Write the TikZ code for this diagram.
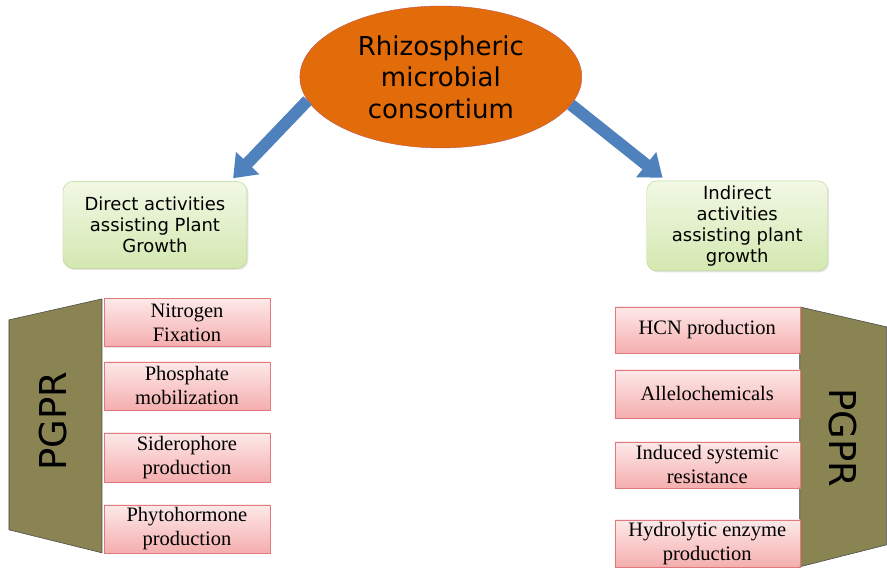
\documentclass[tikz,border=0pt]{standalone}
\usepackage{fontspec}
\setmainfont{Liberation Serif}
\newfontfamily\verdfont{DejaVu Sans}
\usetikzlibrary{shapes.geometric,arrows.meta,calc,shadows}

\definecolor{consorange}{HTML}{E36C0A}
\definecolor{consedge}{HTML}{C0504D}
\definecolor{arrowblue}{HTML}{4F81BD}
\definecolor{greentop}{HTML}{F1F8E4}
\definecolor{greenbot}{HTML}{D4E8B0}
\definecolor{greenedge}{HTML}{B9D58E}
\definecolor{pinktop}{HTML}{FDE9E9}
\definecolor{pinkbot}{HTML}{F5AEAE}
\definecolor{pinkedge}{HTML}{E07A7E}
\definecolor{pgprolive}{HTML}{8A8452}

\begin{document}
\begin{tikzpicture}[x=1pt,y=-1pt,
  cons node/.style={ellipse,draw=consedge,fill=consorange,
  minimum width=282pt,minimum height=142pt,inner sep=0pt,align=center,
  font=\verdfont\fontsize{26}{31.5}\selectfont},
  group node/.style={rectangle,rounded corners=10pt,draw=greenedge,
  top color=greentop,bottom color=greenbot,align=center,inner sep=0pt,
  drop shadow={opacity=0.2,shadow xshift=1.5pt,shadow yshift=-1.5pt},
  font=\verdfont\fontsize{18}{21}\selectfont},
  act node/.style={rectangle,draw=pinkedge,top color=pinktop,
  bottom color=pinkbot,align=center,inner sep=0pt,
  drop shadow={opacity=0.2,shadow xshift=1.5pt,shadow yshift=-1.5pt},
  font=\fontsize{20.5}{24}\selectfont},
  big arrow/.style={draw=arrowblue,line width=12pt,
  -{Triangle[length=21pt,width=31pt]}},
  pgpr shape/.style={fill=pgprolive,draw=black!70,line width=0.6pt},
  pgpr text/.style={font=\verdfont\fontsize{37}{42}\selectfont}]

  \fill[white] (0,0) rectangle (887,570);

  \node[cons node] (cons) at (441,77) {Rhizospheric\\microbial\\consortium};

  \node[group node,minimum width=184pt,minimum height=87pt] (direct)
    at (155,225) {Direct activities\\assisting Plant\\Growth};
  \node[group node,minimum width=181pt,minimum height=90pt] (indirect)
    at (737.5,226) {Indirect\\activities\\assisting plant\\growth};

  \draw[big arrow] (cons.190) -- ($(direct.north east)+(-14,-3)$);
  \draw[big arrow] (cons.-12) -- ($(indirect.north west)+(16,-3)$);

  % left PGPR block
  \draw[pgpr shape] (9,320) -- (102,299) -- (102,553) -- (9,530) -- cycle;
  \node[pgpr text,rotate=90] (pgprl) at (53,421) {PGPR};

  \node[act node,minimum width=166pt,minimum height=48pt] (nfix)
    at (187,322.5) {Nitrogen\\Fixation};
  \node[act node,minimum width=166pt,minimum height=48pt] (phos)
    at (187,386) {Phosphate\\mobilization};
  \node[act node,minimum width=166pt,minimum height=49pt] (sider)
    at (187,457.5) {Siderophore\\production};
  \node[act node,minimum width=166pt,minimum height=48pt] (phyto)
    at (187,529) {Phytohormone\\production};

  % right PGPR block
  \draw[pgpr shape] (800,307) -- (887,327) -- (887,545) -- (800,567) -- cycle;
  \node[pgpr text,rotate=-90] (pgprr) at (843,438) {PGPR};

  \node[act node,minimum width=185pt,minimum height=46pt] (hcn)
    at (707.5,330) {HCN production};
  \node[act node,minimum width=185pt,minimum height=48pt] (allelo)
    at (707.5,394) {Allelochemicals};
  \node[act node,minimum width=185pt,minimum height=46pt] (isr)
    at (707.5,465) {Induced systemic\\resistance};
  \node[act node,minimum width=185pt,minimum height=47pt] (hydro)
    at (707.5,543.5) {Hydrolytic enzyme\\production};
\end{tikzpicture}
\end{document}
